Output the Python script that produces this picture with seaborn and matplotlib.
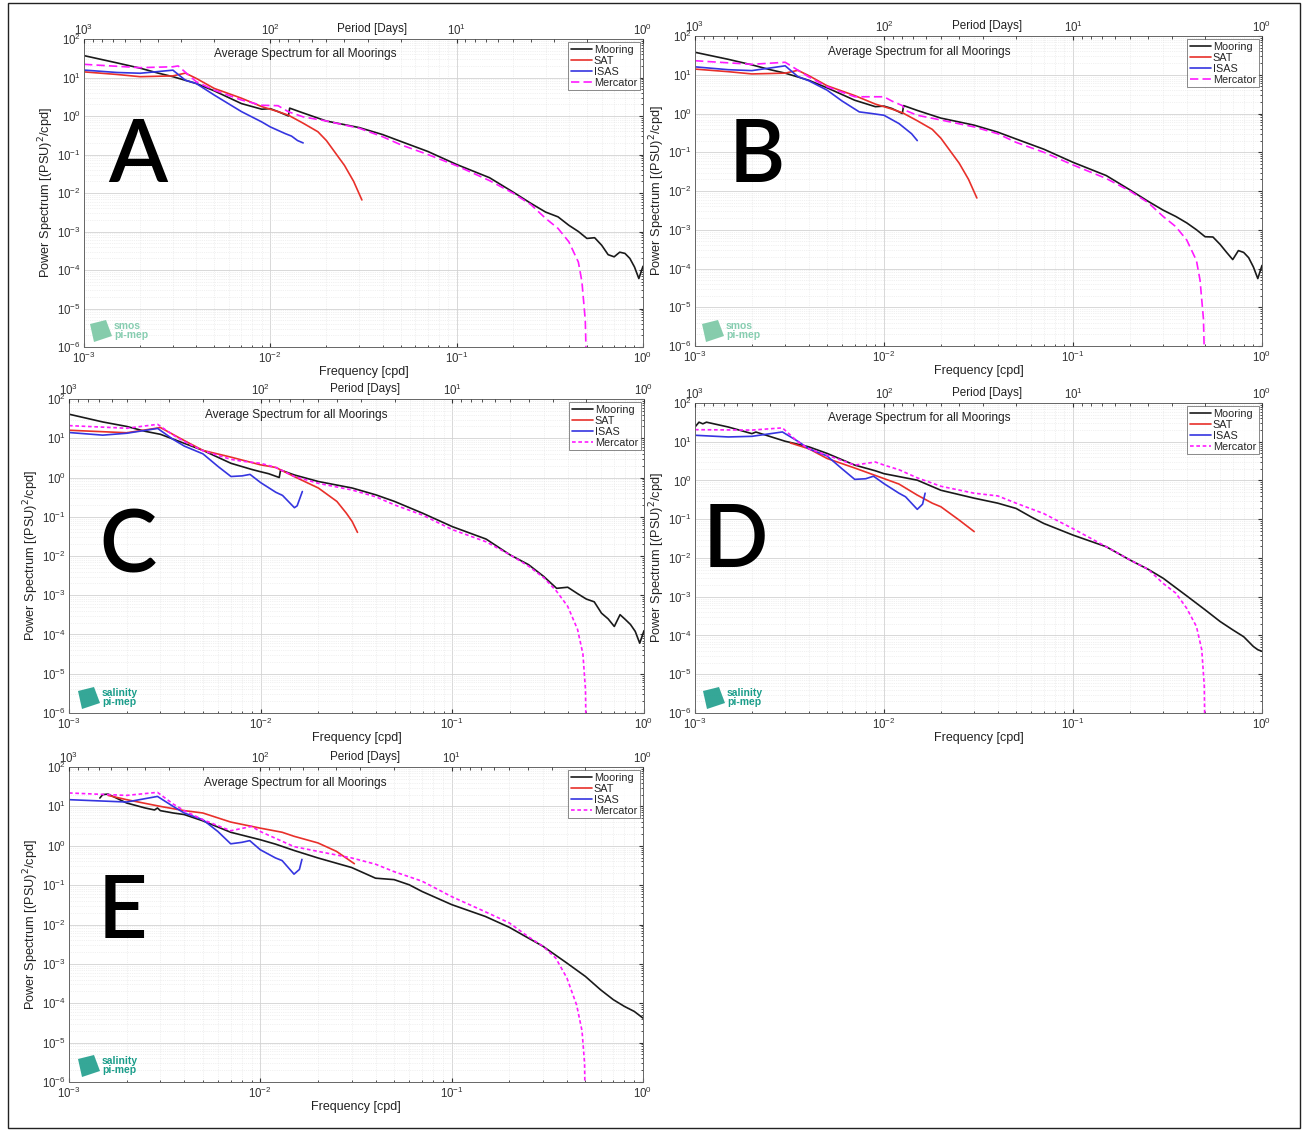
import numpy as np
import pandas as pd
import matplotlib
matplotlib.use("Agg")
import matplotlib.pyplot as plt
import seaborn as sns
from matplotlib.patches import Rectangle, Polygon
from matplotlib.ticker import LogLocator, LogFormatterMathtext, NullFormatter

# ---------------- data (frequency in cpd, power in PSU^2/cpd) ----------------
SERIES_NAMES = ["Mooring", "SAT", "ISAS", "Mercator"]
PANEL_LETTERS = ["A", "B", "C", "D", "E"]

# Panel A / B
AB_MOOR_F = [0.001, 0.0015, 0.002, 0.0025, 0.003, 0.004, 0.005, 0.007, 0.009, 0.01, 0.011, 0.0125, 0.0127,
             0.015, 0.02, 0.03, 0.04, 0.05, 0.07, 0.1, 0.15, 0.2, 0.25, 0.3, 0.35, 0.4, 0.45, 0.5, 0.55,
             0.6, 0.65, 0.7, 0.75, 0.8, 0.85, 0.9, 0.95, 1.0]
A_MOOR_P = [37, 24, 17.5, 13, 10.5, 7, 4.5, 2.1, 1.5, 1.55, 1.3, 1.0, 1.6,
            1.2, 0.74, 0.5, 0.33, 0.22, 0.12, 0.055, 0.025, 0.0107, 0.0054, 0.0032, 0.0024, 0.00145, 0.001, 6.6e-4, 6.9e-4,
            4.4e-4, 2.5e-4, 2.2e-4, 2.9e-4, 2.7e-4, 2.0e-4, 1.2e-4, 6e-5, 1.25e-4]
B_MOOR_P = [38, 25, 18, 13.5, 11, 7.2, 4.6, 2.2, 1.5, 1.55, 1.35, 1.0, 1.6,
            1.2, 0.76, 0.5, 0.33, 0.22, 0.12, 0.055, 0.025, 0.0107, 0.0054, 0.0032, 0.0022, 0.0015, 0.001, 6.6e-4, 6.5e-4,
            4.2e-4, 2.6e-4, 1.7e-4, 2.9e-4, 2.6e-4, 1.9e-4, 1.1e-4, 5.5e-5, 1.2e-4]
AB_SAT_F = [0.001, 0.0015, 0.002, 0.003, 0.0035, 0.004, 0.005, 0.007, 0.009, 0.011, 0.0125, 0.015, 0.018,
            0.02, 0.025, 0.028, 0.031]
A_SAT_P = [14, 12, 10.5, 11, 13, 9.5, 5.2, 2.9, 1.75, 1.3, 1.05, 0.65, 0.39, 0.23, 0.052, 0.02, 0.0066]
A_ISAS_F = [0.001, 0.0015, 0.002, 0.003, 0.0035, 0.004, 0.005, 0.007, 0.009, 0.01, 0.012, 0.013, 0.014, 0.015]
A_ISAS_P = [15.6, 13.5, 12.9, 15.5, 8.5, 7, 3.5, 1.3, 0.7, 0.52, 0.35, 0.3, 0.23, 0.2]
B_ISAS_F = [0.001, 0.0015, 0.002, 0.003, 0.0035, 0.004, 0.005, 0.006, 0.0074, 0.0086, 0.01, 0.012, 0.014, 0.015]
B_ISAS_P = [16, 13.5, 12.8, 17, 9, 7, 4.0, 2.1, 1.1, 1.0, 0.9, 0.55, 0.3, 0.2]
A_MERC_F = [0.001, 0.002, 0.003, 0.0032, 0.004, 0.005, 0.007, 0.009, 0.011, 0.0125, 0.015, 0.02, 0.03, 0.04,
            0.05, 0.07, 0.1, 0.15, 0.2, 0.25, 0.3, 0.35, 0.4, 0.45, 0.47, 0.49, 0.5]
A_MERC_P = [22, 18, 19, 20, 7.8, 4.7, 2.6, 1.9, 1.85, 1.29, 0.95, 0.74, 0.48, 0.29,
            0.18, 0.1, 0.051, 0.021, 0.01, 0.005, 0.0022, 0.0012, 5.4e-4, 1.6e-4, 5e-5, 5e-6, 1e-7]
B_MERC_F = [0.001, 0.002, 0.003, 0.004, 0.005, 0.007, 0.01, 0.011, 0.0125, 0.013, 0.015, 0.02, 0.03, 0.04,
            0.05, 0.07, 0.1, 0.15, 0.2, 0.25, 0.3, 0.35, 0.4, 0.45, 0.47, 0.49, 0.5]
B_MERC_P = [23, 18.6, 21, 8.8, 4.9, 2.7, 2.7, 2.1, 1.6, 1.2, 0.9, 0.68, 0.45, 0.3,
            0.18, 0.1, 0.047, 0.021, 0.01, 0.005, 0.0022, 0.0012, 5.4e-4, 1.6e-4, 5e-5, 5e-6, 1e-7]

# Panel C
C_MOOR_P = [41, 26, 20, 15, 12.6, 7.4, 4.9, 2.3, 1.6, 1.4, 1.25, 1.0, 1.55,
            1.16, 0.79, 0.54, 0.36, 0.245, 0.123, 0.056, 0.027, 0.0107, 0.006, 0.003, 0.0015, 0.0016, 0.0011, 8e-4, 6.8e-4,
            3.5e-4, 2.5e-4, 1.6e-4, 3.2e-4, 2.4e-4, 1.8e-4, 1.2e-4, 6e-5, 1.25e-4]
C_SAT_F = [0.001, 0.002, 0.003, 0.004, 0.005, 0.007, 0.01, 0.012, 0.015, 0.02, 0.025, 0.028, 0.03, 0.032]
C_SAT_P = [16, 13.8, 18.7, 8.7, 4.9, 3.3, 2.1, 1.8, 1.05, 0.54, 0.245, 0.123, 0.076, 0.04]
C_ISAS_F = [0.001, 0.0015, 0.002, 0.0029, 0.0035, 0.004, 0.005, 0.006, 0.007, 0.008, 0.0088, 0.01, 0.012,
            0.013, 0.015, 0.0155, 0.0165]
C_ISAS_P = [14, 12, 13.4, 17.8, 9.3, 6.3, 4.0, 1.9, 1.06, 1.1, 1.2, 0.74, 0.42, 0.35, 0.17, 0.19, 0.44]
C_MERC_F = [0.001, 0.002, 0.0029, 0.0035, 0.004, 0.005, 0.007, 0.008, 0.01, 0.012, 0.015, 0.02, 0.03, 0.04,
            0.05, 0.07, 0.1, 0.15, 0.2, 0.25, 0.3, 0.35, 0.4, 0.45, 0.48, 0.495, 0.5]
C_MERC_P = [21, 18, 22.6, 12, 8.2, 4.8, 2.9, 2.6, 2.3, 1.8, 1.06, 0.71, 0.48, 0.32,
            0.2, 0.11, 0.047, 0.023, 0.0107, 0.0055, 0.0028, 0.00126, 5.2e-4, 1.35e-4, 3.2e-5, 4e-6, 1e-7]

# Panel D
D_MOOR_F = [0.001, 0.00105, 0.0011, 0.00115, 0.0015, 0.002, 0.0021, 0.003, 0.004, 0.005, 0.007, 0.009, 0.01,
            0.015, 0.02, 0.03, 0.04, 0.05, 0.06, 0.07, 0.1, 0.15, 0.2, 0.25, 0.3, 0.4, 0.5, 0.6, 0.7, 0.8,
            0.9, 0.95, 1.0]
D_MOOR_P = [24, 32, 29, 32, 24, 16.2, 17.8, 10.3, 7.4, 5.0, 2.5, 1.78, 1.5,
            1.02, 0.56, 0.35, 0.26, 0.19, 0.115, 0.078, 0.039, 0.0195, 0.0089, 0.0051, 0.003, 0.00105, 4.6e-4,
            2.3e-4, 1.4e-4, 9.3e-5, 5.2e-5, 4.3e-5, 3.9e-5]
D_SAT_F = [0.0032, 0.004, 0.005, 0.007, 0.01, 0.012, 0.015, 0.018, 0.02, 0.025, 0.03]
D_SAT_P = [9.3, 6.6, 3.7, 2.1, 1.12, 0.81, 0.42, 0.26, 0.21, 0.095, 0.048]
D_ISAS_F = [0.001, 0.0015, 0.002, 0.0029, 0.0035, 0.004, 0.005, 0.006, 0.007, 0.008, 0.0088, 0.01, 0.012,
            0.013, 0.015, 0.016, 0.0165]
D_ISAS_P = [14.7, 13.3, 13.8, 17.9, 10.3, 6.6, 4.3, 2.0, 1.07, 1.11, 1.29, 0.83, 0.47, 0.38, 0.18, 0.245, 0.47]
D_MERC_F = [0.001, 0.002, 0.0029, 0.0035, 0.004, 0.005, 0.007, 0.009, 0.01, 0.012, 0.015, 0.02, 0.03, 0.04,
            0.05, 0.07, 0.1, 0.15, 0.2, 0.25, 0.3, 0.35, 0.4, 0.45, 0.48, 0.495, 0.5]
D_MERC_P = [20.5, 20, 22.8, 10, 6.6, 4.5, 2.5, 3.0, 2.5, 1.9, 1.17, 0.71, 0.47, 0.4,
            0.26, 0.14, 0.057, 0.0195, 0.0089, 0.0051, 0.0022, 0.00124, 5e-4, 1.7e-4, 4.3e-5, 5e-6, 1e-7]

# Panel E
E_MOOR_F = [0.00145, 0.0015, 0.0016, 0.002, 0.0025, 0.0028, 0.0029, 0.003, 0.0035, 0.004, 0.005, 0.007, 0.01,
            0.012, 0.015, 0.02, 0.025, 0.03, 0.04, 0.05, 0.06, 0.07, 0.1, 0.15, 0.2, 0.25, 0.3, 0.4, 0.5,
            0.6, 0.7, 0.8, 0.9, 1.0]
E_MOOR_P = [16.3, 19.9, 20.5, 12.2, 9.1, 8.1, 9.1, 7.8, 6.8, 6.2, 4.3, 2.2, 1.42,
            1.1, 0.76, 0.49, 0.36, 0.28, 0.15, 0.138, 0.102, 0.069, 0.032, 0.016, 0.0085, 0.0046, 0.0028,
            0.00105, 4.8e-4, 2.2e-4, 1.23e-4, 8.3e-5, 6.2e-5, 4.2e-5]
E_SAT_F = [0.0016, 0.002, 0.003, 0.004, 0.005, 0.007, 0.01, 0.013, 0.015, 0.02, 0.025, 0.031]
E_SAT_P = [19, 14.8, 10, 7.8, 6.8, 4.0, 2.8, 2.2, 1.74, 1.18, 0.72, 0.35]
E_ISAS_F = [0.001, 0.002, 0.0029, 0.0035, 0.004, 0.005, 0.006, 0.007, 0.008, 0.0088, 0.01, 0.012, 0.013,
            0.015, 0.016, 0.0165]
E_ISAS_P = [14.8, 12.9, 17.9, 10, 6.8, 4.6, 2.3, 1.12, 1.22, 1.35, 0.79, 0.49, 0.42, 0.19, 0.25, 0.45]
E_MERC_F = [0.001, 0.002, 0.0029, 0.0035, 0.004, 0.005, 0.007, 0.009, 0.01, 0.015, 0.02, 0.03, 0.04,
            0.05, 0.07, 0.1, 0.15, 0.2, 0.25, 0.3, 0.35, 0.4, 0.45, 0.48, 0.495, 0.5]
E_MERC_P = [21.9, 19, 22.7, 11.5, 7.8, 4.6, 2.4, 3.1, 2.3, 0.95, 0.72, 0.49, 0.34,
            0.22, 0.126, 0.051, 0.021, 0.011, 0.005, 0.0028, 0.0014, 4.4e-4, 9e-5, 2e-5, 3e-6, 1e-7]

PERIOD_TICKS = [1000, 100, 10, 1]

# ---------------- styling ----------------
sns.set_style("white")
plt.rcParams['font.family'] = ['Liberation Sans', 'DejaVu Sans']
plt.rcParams['axes.unicode_minus'] = False

W, H = 1306, 1131
fig = plt.figure(figsize=(W / 100, H / 100), dpi=100)

COLORS = {"Mooring": "#1a1a1a", "SAT": "#e8302a", "ISAS": "#3535e0", "Mercator": "#ff1aff"}


def fbox(l, t, r, b):
    return [l / W, 1 - b / H, (r - l) / W, (b - t) / H]


def logo(x, y, name, color, tcolor):
    pts = [(x, y + 4), (x + 16, y), (x + 22, y + 16), (x + 4, y + 22)]
    poly = Polygon([(px / W, 1 - py / H) for px, py in pts], closed=True,
                   transform=fig.transFigure, facecolor=color, edgecolor='none', alpha=0.9)
    fig.patches.append(poly)
    fig.text((x + 24) / W, 1 - (y + 6) / H, name, fontsize=7.5, color=tcolor, fontweight='bold',
             va='center', ha='left')
    fig.text((x + 24) / W, 1 - (y + 15) / H, 'pi-mep', fontsize=7.5, color=tcolor, fontweight='bold',
             va='center', ha='left')


def panel(box, letter, letter_xy, curves, merc_ls, logo_xy, logo_name, logo_col, logo_tcol):
    ax = fig.add_axes(fbox(*box))
    ax.set_xscale('log')
    ax.set_yscale('log')
    for name, f, p in curves:
        df = pd.DataFrame({'freq': f, 'power': p})
        sns.lineplot(data=df, x='freq', y='power', ax=ax, color=COLORS[name], lw=1.2,
                     label=name, estimator=None, sort=False)
        if name == "Mercator":
            ax.lines[-1].set_linestyle(merc_ls)
    ax.set_xlim(1e-3, 1)
    ax.set_ylim(1e-6, 1e2)
    ax.yaxis.set_major_locator(LogLocator(base=10, numticks=20))
    ax.yaxis.set_minor_locator(LogLocator(base=10, subs=np.arange(2, 10), numticks=20))
    ax.yaxis.set_major_formatter(LogFormatterMathtext())
    ax.yaxis.set_minor_formatter(NullFormatter())
    ax.grid(which='major', color='#d2d2d2', lw=0.6)
    ax.grid(which='minor', color='#e4e4e4', lw=0.5, ls=':')
    ax.tick_params(which='both', direction='in', right=True, labelsize=8.3, colors='#333333',
                   length=3, pad=2.5)
    ax.tick_params(which='minor', length=1.8)
    for s in ax.spines.values():
        s.set_color('#666666')
        s.set_linewidth(0.7)
    ax.set_xlabel('Frequency [cpd]', fontsize=9, labelpad=0.5, color='#222222')
    ax.set_ylabel('Power Spectrum [(PSU)$^2$/cpd]', fontsize=9.2, labelpad=0.5, color='#222222')
    ax.text(0.395, 0.95, 'Average Spectrum for all Moorings', transform=ax.transAxes,
            ha='center', va='center', fontsize=8.6, color='#222222')
    ax.text(0.515, 1.014, 'Period [Days]', transform=ax.transAxes, ha='center', va='bottom',
            fontsize=8.4, color='#222222')
    leg = ax.legend(loc='upper right', fontsize=7.8, handlelength=2.0, borderpad=0.25,
                    labelspacing=0.08, handletextpad=0.15, frameon=True, fancybox=False,
                    borderaxespad=0.3)
    leg.get_frame().set_edgecolor('#555555')
    leg.get_frame().set_linewidth(0.6)

    ax2 = ax.twiny()
    ax2.set_xscale('log')
    ax2.set_xlim(1000, 1)
    ax2.set_xticks(PERIOD_TICKS)
    ax2.xaxis.set_major_formatter(LogFormatterMathtext())
    ax2.xaxis.set_minor_formatter(NullFormatter())
    ax2.tick_params(which='both', direction='in', labelsize=8.3, colors='#333333', length=3, pad=1)
    ax2.tick_params(which='minor', length=1.8)
    for s in ax2.spines.values():
        s.set_visible(False)

    fig.text(letter_xy[0] / W, 1 - letter_xy[1] / H, letter, fontsize=62,
             family=['Lato', 'DejaVu Sans'], fontweight='semibold', ha='center', va='center',
             color='black')
    logo(logo_xy[0], logo_xy[1], logo_name, logo_col, logo_tcol)
    return ax


SMOS_COL, SMOS_T = '#79c7a3', '#86cdb0'
SAL_COL, SAL_T = '#1f9e8c', '#1a9d8a'

panel((84, 39, 643, 347), PANEL_LETTERS[0], (138, 158),
      [("Mooring", AB_MOOR_F, A_MOOR_P), ("SAT", AB_SAT_F, A_SAT_P),
       ("ISAS", A_ISAS_F, A_ISAS_P), ("Mercator", A_MERC_F, A_MERC_P)],
      (0, (5, 2.5)), (90, 320), 'smos', SMOS_COL, SMOS_T)
panel((695, 36, 1262, 346), PANEL_LETTERS[1], (757, 158),
      [("Mooring", AB_MOOR_F, B_MOOR_P), ("SAT", AB_SAT_F, A_SAT_P),
       ("ISAS", B_ISAS_F, B_ISAS_P), ("Mercator", B_MERC_F, B_MERC_P)],
      (0, (5, 2.5)), (702, 320), 'smos', SMOS_COL, SMOS_T)
panel((69, 399, 644, 713), PANEL_LETTERS[2], (128, 548),
      [("Mooring", AB_MOOR_F, C_MOOR_P), ("SAT", C_SAT_F, C_SAT_P),
       ("ISAS", C_ISAS_F, C_ISAS_P), ("Mercator", C_MERC_F, C_MERC_P)],
      (0, (2.2, 1.6)), (78, 687), 'salinity', SAL_COL, SAL_T)
panel((695, 403, 1262, 713), PANEL_LETTERS[3], (735, 543),
      [("Mooring", D_MOOR_F, D_MOOR_P), ("SAT", D_SAT_F, D_SAT_P),
       ("ISAS", D_ISAS_F, D_ISAS_P), ("Mercator", D_MERC_F, D_MERC_P)],
      (0, (2.2, 1.6)), (703, 687), 'salinity', SAL_COL, SAL_T)
panel((69, 767, 643, 1082), PANEL_LETTERS[4], (122, 913),
      [("Mooring", E_MOOR_F, E_MOOR_P), ("SAT", E_SAT_F, E_SAT_P),
       ("ISAS", E_ISAS_F, E_ISAS_P), ("Mercator", E_MERC_F, E_MERC_P)],
      (0, (2.2, 1.6)), (78, 1055), 'salinity', SAL_COL, SAL_T)

# outer frame
fig.patches.append(Rectangle((8 / W, 3 / H), (1300 - 8) / W, (1128 - 3) / H, transform=fig.transFigure,
                             fill=False, edgecolor='#222222', lw=1.0))

fig.savefig('out.png', dpi=100)
